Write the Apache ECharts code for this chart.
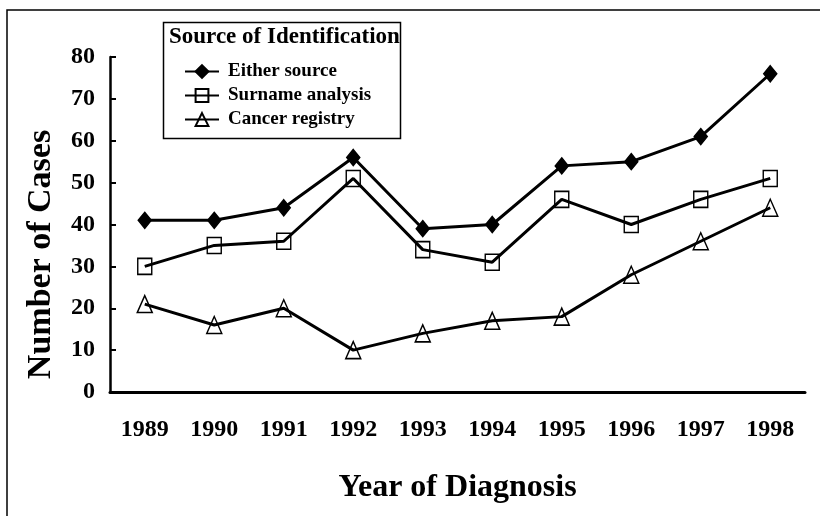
<!DOCTYPE html>
<html><head><meta charset="utf-8">
<script src="https://cdn.jsdelivr.net/npm/echarts@6/dist/echarts.min.js"></script>
<style>html,body{margin:0;padding:0;background:#fff}#c{width:820px;height:516px}</style>
</head><body><div id="c"></div>
<script>
const years = ['1989','1990','1991','1992','1993','1994','1995','1996','1997','1998'];
const eitherSource = [41,41,44,56,39,40,54,55,61,76];
const surnameAnalysis = [30,35,36,51,34,31,46,40,46,51];
const cancerRegistry = [21,16,20,10,14,17,18,28,36,44];
const seriesNames = ['Either source','Surname analysis','Cancer registry'];
const yMin = 0, yMax = 80, yStep = 10;

const FONT = 'Liberation Serif';
const chart = echarts.init(document.getElementById('c'), null, {renderer:'canvas'});

function lineSeries(name, data, symbol, size, fill) {
  return {
    name, type:'line', data, symbol, symbolSize:size,
    showAllSymbol:true,
    lineStyle:{color:'#000', width:3},
    itemStyle:{color:fill, borderColor:'#000', borderWidth:1.5},
    emphasis:{disabled:true},
    z: 3
  };
}

chart.setOption({
  animation:false,
  backgroundColor:'#fff',
  textStyle:{fontFamily:FONT, color:'#000'},
  grid:{left:110, right:15, top:57, bottom:124},
  title:{
    text:'Source of Identification',
    left:169, top:26, padding:0,
    textStyle:{fontFamily:FONT, fontWeight:'bold', fontSize:23, color:'#000'}
  },
  legend:{
    data:seriesNames,
    orient:'vertical', left:184, top:62,
    itemWidth:34, itemHeight:16, itemGap:5,
    padding:0,
    textStyle:{fontFamily:FONT, fontWeight:'bold', fontSize:19, color:'#000', padding:[0,0,0,4]},
    selectedMode:false
  },
  xAxis:{
    type:'category', data:years, boundaryGap:true,
    axisLine:{lineStyle:{color:'#000', width:3}},
    axisTick:{show:false},
    axisLabel:{fontFamily:FONT, fontWeight:'bold', fontSize:24, color:'#000', margin:26},
    name:'Year of Diagnosis', nameLocation:'middle', nameGap:80,
    nameTextStyle:{fontFamily:FONT, fontWeight:'bold', fontSize:32, color:'#000'}
  },
  yAxis:{
    type:'value', min:yMin, max:yMax, interval:yStep,
    axisLine:{show:true, lineStyle:{color:'#000', width:2.5}},
    axisTick:{show:true, inside:true, length:6, lineStyle:{color:'#000', width:2}},
    splitLine:{show:false},
    axisLabel:{fontFamily:FONT, fontWeight:'bold', fontSize:24, color:'#000', margin:15},
    name:'Number of Cases', nameLocation:'middle', nameGap:52,
    nameTextStyle:{fontFamily:FONT, fontWeight:'bold', fontSize:34, color:'#000', padding:[0,60,0,0]}
  },
  graphic:[
    {type:'polyline', shape:{points:[[7,516],[7,10],[820,10]]}, style:{stroke:'#000', lineWidth:1.5, fill:null}, z:10},
    {type:'rect', shape:{x:163.5, y:22.5, width:237, height:116}, style:{stroke:'#000', lineWidth:1.5, fill:'#fff'}, z:-1}
  ],
  series:[
    lineSeries(seriesNames[0], eitherSource, 'diamond', [13,16], '#000'),
    lineSeries(seriesNames[1], surnameAnalysis, 'rect', [14,16], 'rgba(255,255,255,0)'),
    lineSeries(seriesNames[2], cancerRegistry, 'triangle', [15,17], 'rgba(255,255,255,0)')
  ]
});
</script></body></html>
